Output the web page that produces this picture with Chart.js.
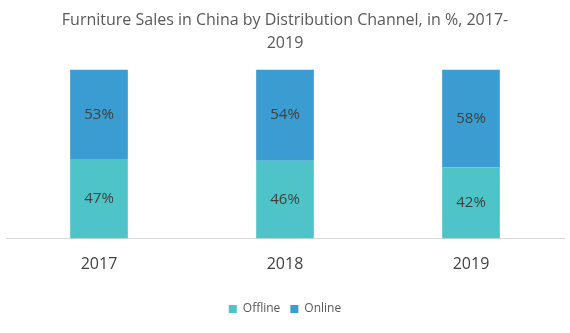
<!DOCTYPE html>
<html>
<head>
<meta charset="utf-8">
<script src="https://cdn.jsdelivr.net/npm/chart.js@4"></script>
<style>
   html, body { margin: 0; padding: 0; background: #fff; }
   #wrap { width: 570px; height: 333px; }
</style>
</head>
<body>
<div id="wrap"><canvas id="salesChart"></canvas></div>
<script>
// Furniture sales by channel, share in %
const years = ["2017", "2018", "2019"];
const offline = [47, 46, 42];
const online = [53, 54, 58];

// Draw the % value in the middle of each bar segment
const segmentLabels = {
   id: "segmentLabels",
   afterDatasetsDraw(chart) {
      const ctx = chart.ctx;
      ctx.save();
      ctx.font = "15px 'Open Sans', sans-serif";
      ctx.fillStyle = "#404040";
      ctx.textAlign = "center";
      ctx.textBaseline = "middle";
      chart.data.datasets.forEach((ds, i) => {
         chart.getDatasetMeta(i).data.forEach((bar, j) => {
            const mid = (bar.y + bar.base) / 2;
            ctx.fillText(ds.data[j] + "%", bar.x, mid);
         });
      });
      ctx.restore();
   },
};

const ctx = document.getElementById("salesChart").getContext("2d");
new Chart(ctx, {
   type: "bar",
   data: {
      labels: years,
      datasets: [
         {
            label: "Offline",
            data: offline,
            backgroundColor: "#4fc4c8",
            barPercentage: 0.31,
            categoryPercentage: 1,
         },
         {
            label: "Online",
            data: online,
            backgroundColor: "#3a9cd0",
            barPercentage: 0.31,
            categoryPercentage: 1,
         },
      ],
   },
   options: {
      responsive: true,
      maintainAspectRatio: false,
      animation: false,
      layout: { padding: { left: 6, right: 6, top: 0, bottom: 8 } },
      plugins: {
         title: {
            display: true,
            text: ["Furniture Sales in China by Distribution Channel, in %, 2017-", "2019"],
            color: "#595959",
            font: { family: "'Open Sans', sans-serif", size: 16, weight: "normal", lineHeight: 1.45 },
            padding: { top: 9, bottom: 14 },
         },
         legend: {
            position: "bottom",
            // empty title only adds some space above the legend row
            title: { display: true, text: " ", font: { size: 1 }, padding: 5 },
            labels: {
               color: "#595959",
               font: { family: "'Open Sans', sans-serif", size: 12 },
               boxWidth: 8,
               boxHeight: 8,
               padding: 10,
            },
         },
         tooltip: { enabled: false },
      },
      scales: {
         x: {
            stacked: true,
            grid: { display: false },
            border: { color: "#d9d9d9" },
            ticks: {
               color: "#404040",
               font: { family: "'Open Sans', sans-serif", size: 16 },
               padding: 8,
            },
         },
         y: {
            stacked: true,
            min: 0,
            max: 100,
            display: false,
         },
      },
   },
   plugins: [segmentLabels],
});
</script>
</body>
</html>
